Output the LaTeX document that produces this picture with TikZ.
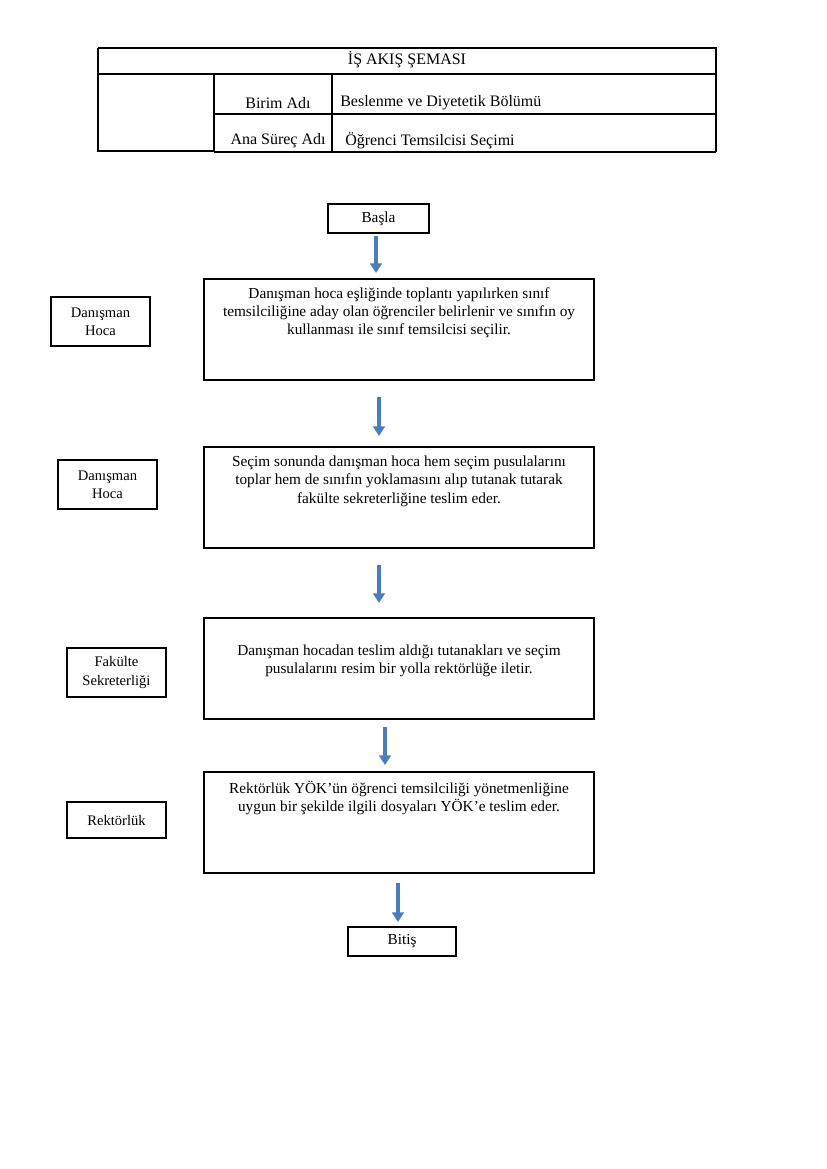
\documentclass[tikz,border=0pt]{standalone}
\usepackage{fontspec}
\setmainfont{Liberation Serif}
\usetikzlibrary{arrows.meta}
\begin{document}
\begin{tikzpicture}[x=0.7195pt,y=-0.7195pt,
  box/.style={draw,line width=0.8pt,inner sep=0pt},
  txt/.style={align=center,inner sep=0pt,font=\fontsize{11}{13}\selectfont},
  lbl/.style={draw,line width=0.8pt,inner sep=0pt,align=center,font=\fontsize{10.5}{13}\selectfont},
  flow/.style={draw={rgb,255:red,74;green,126;blue,187},line width=2.2pt,-{Triangle[width=8.5pt,length=7pt]}},
  hd/.style={inner sep=0pt,font=\fontsize{11.5}{13}\selectfont}]
\useasboundingbox (0,0) rectangle (827,1169);
% header table
\draw[line width=0.8pt] (98,48) -- (716,48) -- (716,152);
\draw[line width=0.8pt] (98,48) -- (98,151) -- (214,151);
\draw[line width=0.8pt] (98,74) -- (716,74);
\draw[line width=0.8pt] (214,74) -- (214,152);
\draw[line width=0.8pt] (332,74) -- (332,152);
\draw[line width=0.8pt] (214,114) -- (716,114);
\draw[line width=1.6pt] (214,152) -- (716,152);
\node[hd] (title) at (407,60) {İŞ AKIŞ ŞEMASI};
\node[hd] (birim) at (278,103) {Birim Adı};
\node[hd,anchor=west] (birimv) at (340,103) {Beslenme ve Diyetetik Bölümü};
\node[hd] (surec) at (278,141) {Ana Süreç Adı};
\node[hd,anchor=west] (surecv) at (345,141) {Öğrenci Temsilcisi Seçimi};
% start
\node[box,minimum width=101*0.7195pt,minimum height=29*0.7195pt,font=\fontsize{11}{13}\selectfont] (start) at (378.5,218.5) {Başla};
% box 1
\node[box,minimum width=390*0.7195pt,minimum height=101*0.7195pt] (b1) at (399,329.5) {};
\node[txt,anchor=north] (t1) at (399,287) {Danışman hoca eşliğinde toplantı yapılırken sınıf\\temsilciliğine aday olan öğrenciler belirlenir ve sınıfın oy\\kullanması ile sınıf temsilcisi seçilir.};
\node[lbl,minimum width=99*0.7195pt,minimum height=49*0.7195pt] (l1) at (100.5,321.5) {Danışman\\Hoca};
% box 2
\node[box,minimum width=390*0.7195pt,minimum height=101*0.7195pt] (b2) at (399,497.5) {};
\node[txt,anchor=north] (t2) at (399,456) {Seçim sonunda danışman hoca hem seçim pusulalarını\\toplar hem de sınıfın yoklamasını alıp tutanak tutarak\\fakülte sekreterliğine teslim eder.};
\node[lbl,minimum width=99*0.7195pt,minimum height=49*0.7195pt] (l2) at (107.5,484.5) {Danışman\\Hoca};
% box 3
\node[box,minimum width=390*0.7195pt,minimum height=101*0.7195pt] (b3) at (399,668.5) {};
\node[txt,anchor=north] (t3) at (399,645) {Danışman hocadan teslim aldığı tutanakları ve seçim\\pusulalarını resim bir yolla rektörlüğe iletir.};
\node[lbl,minimum width=99*0.7195pt,minimum height=49*0.7195pt] (l3) at (116.5,672.5) {Fakülte\\Sekreterliği};
% box 4
\node[box,minimum width=390*0.7195pt,minimum height=101*0.7195pt] (b4) at (399,822.5) {};
\node[txt,anchor=north] (t4) at (399,781) {Rektörlük YÖK’ün öğrenci temsilciliği yönetmenliğine\\uygun bir şekilde ilgili dosyaları YÖK’e teslim eder.};
\node[lbl,minimum width=99*0.7195pt,minimum height=36*0.7195pt] (l4) at (116.5,820) {Rektörlük};
% end
\node[box,minimum width=108*0.7195pt,minimum height=29*0.7195pt,font=\fontsize{11}{13}\selectfont] (end) at (402,941.5) {Bitiş};
% arrows
\coordinate (a1s) at (376,236); \coordinate (a1e) at (376,273);
\coordinate (a2s) at (379,397); \coordinate (a2e) at (379,436);
\coordinate (a3s) at (379,565); \coordinate (a3e) at (379,603);
\coordinate (a4s) at (385,727); \coordinate (a4e) at (385,765);
\coordinate (a5s) at (398,883); \coordinate (a5e) at (398,922);
\draw[flow] (a1s) -- (a1e);
\draw[flow] (a2s) -- (a2e);
\draw[flow] (a3s) -- (a3e);
\draw[flow] (a4s) -- (a4e);
\draw[flow] (a5s) -- (a5e);
\end{tikzpicture}
\end{document}
